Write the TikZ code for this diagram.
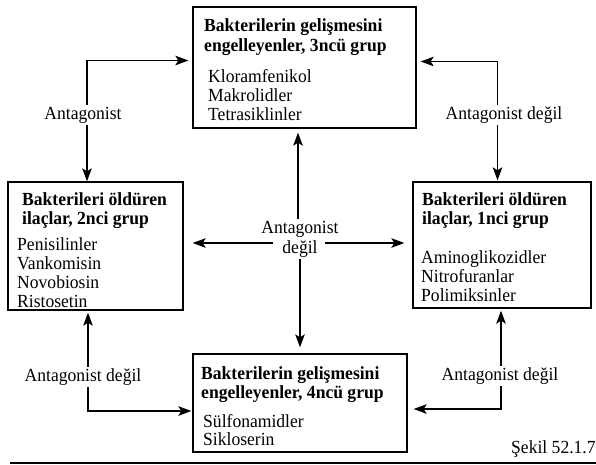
\documentclass[tikz,border=0pt]{standalone}
\usepackage{fontspec}
\setmainfont{Liberation Serif}[FakeStretch=0.95]
\usetikzlibrary{arrows.meta}
\begin{document}
\begin{tikzpicture}[x=1pt,y=-1pt,
  box/.style={draw, line width=1.3pt, inner sep=0pt},
  ttl/.style={anchor=base west, inner sep=0pt, font=\fontsize{18.5}{20}\selectfont\bfseries},
  itm/.style={anchor=base west, inner sep=0pt, font=\fontsize{18.5}{20}\selectfont},
  lbl/.style={font=\fontsize{18.5}{20}\selectfont, inner sep=1.5pt, align=center},
  tip/.tip={Stealth[length=13pt,width=9.5pt,inset=3pt]},
  arr/.style={line width=1.5pt, -tip},
]
\useasboundingbox (0,0) rectangle (596,465);

% boxes
\node[box, minimum width=223pt, minimum height=121pt] (g3) at (304.5,67.5) {};
\node[box, minimum width=175pt, minimum height=128pt] (g2) at (95.5,246) {};
\node[box, minimum width=178pt, minimum height=126pt] (g1) at (502,245) {};
\node[box, minimum width=214pt, minimum height=98pt]  (g4) at (300,403) {};

% top box text
\node[ttl] (t3a) at (204,32) {Bakterilerin gelişmesini};
\node[ttl] (t3b) at (204,52) {engelleyenler, 3ncü grup};
\node[itm] (t3c) at (208,83) {Kloramfenikol};
\node[itm] (t3d) at (208,102) {Makrolidler};
\node[itm] (t3e) at (208,121) {Tetrasiklinler};

% left box text
\node[ttl] (t2a) at (22,205) {Bakterileri öldüren};
\node[ttl] (t2b) at (22,224) {ilaçlar, 2nci grup};
\node[itm] (t2c) at (17,250) {Penisilinler};
\node[itm] (t2d) at (17,269) {Vankomisin};
\node[itm] (t2e) at (17,288) {Novobiosin};
\node[itm] (t2f) at (17,307) {Ristosetin};

% right box text
\node[ttl] (t1a) at (422,205) {Bakterileri öldüren};
\node[ttl] (t1b) at (422,224) {ilaçlar, 1nci grup};
\node[itm] (t1c) at (421,263) {Aminoglikozidler};
\node[itm] (t1d) at (421,282) {Nitrofuranlar};
\node[itm] (t1e) at (421,301) {Polimiksinler};

% bottom box text
\node[ttl] (t4a) at (201,379) {Bakterilerin gelişmesini};
\node[ttl] (t4b) at (201,398) {engelleyenler, 4ncü grup};
\node[itm] (t4c) at (203,427) {Sülfonamidler};
\node[itm] (t4d) at (203,445) {Sikloserin};

% labels
\node[lbl] (lA) at (83,115) {Antagonist};
\node[lbl] (lB) at (504,115) {Antagonist değil};
\node[lbl, inner sep=2pt] (lC) at (300,239) {Antagonist\\değil};
\node[lbl] (lD) at (83,377) {Antagonist değil};
\node[lbl] (lE) at (500,376) {Antagonist değil};

% top-left
\draw[arr, shorten >=4pt] ([xshift=4pt]lA.north) |- ([yshift=7pt]g3.west);
\draw[arr] ([xshift=4pt]lA.south) -- ([xshift=4pt]lA.south |- g2.north);
% top-right
\draw[arr, shorten >=4pt] ([xshift=-6.5pt]lB.north) |- ([yshift=6pt]g3.east);
\draw[arr, shorten >=1pt] ([xshift=-6.5pt]lB.south) -- ([xshift=-6.5pt]lB.south |- g1.north);
% centre
\draw[arr, shorten >=4pt] ([xshift=-2pt]lC.north) -- ([xshift=-2pt]lC.north |- g3.south);
\draw[arr, shorten >=6pt] (lC.south) -- (lC.south |- g4.north);
\draw[arr, shorten <=27pt, shorten >=9pt] ([yshift=-4pt]lC.center) -- ([yshift=-4pt]lC.center -| g2.east);
\draw[arr, shorten <=25pt, shorten >=8pt] ([yshift=-4pt]lC.center) -- ([yshift=-4pt]lC.center -| g1.west);
% bottom-left
\draw[arr, shorten >=2pt] ([xshift=5pt]lD.north) -- ([xshift=5pt]lD.north |- g2.south);
\draw[arr, shorten >=1pt] ([xshift=5pt]lD.south) |- ([yshift=-8pt]g4.west);
% bottom-right
\draw[arr, shorten >=2pt] ([xshift=1pt]lE.north) -- ([xshift=1pt]lE.north |- g1.south);
\draw[arr, shorten >=6pt] ([xshift=1pt]lE.south) |- ([yshift=-6pt]g4.east);

% caption and rule
\node[itm] (cap) at (511,453) {Şekil 52.1.7};
\coordinate (r1) at (10,463);
\coordinate (r2) at (600,463);
\draw[line width=1.6pt] (r1) -- (r2);
\end{tikzpicture}
\end{document}
